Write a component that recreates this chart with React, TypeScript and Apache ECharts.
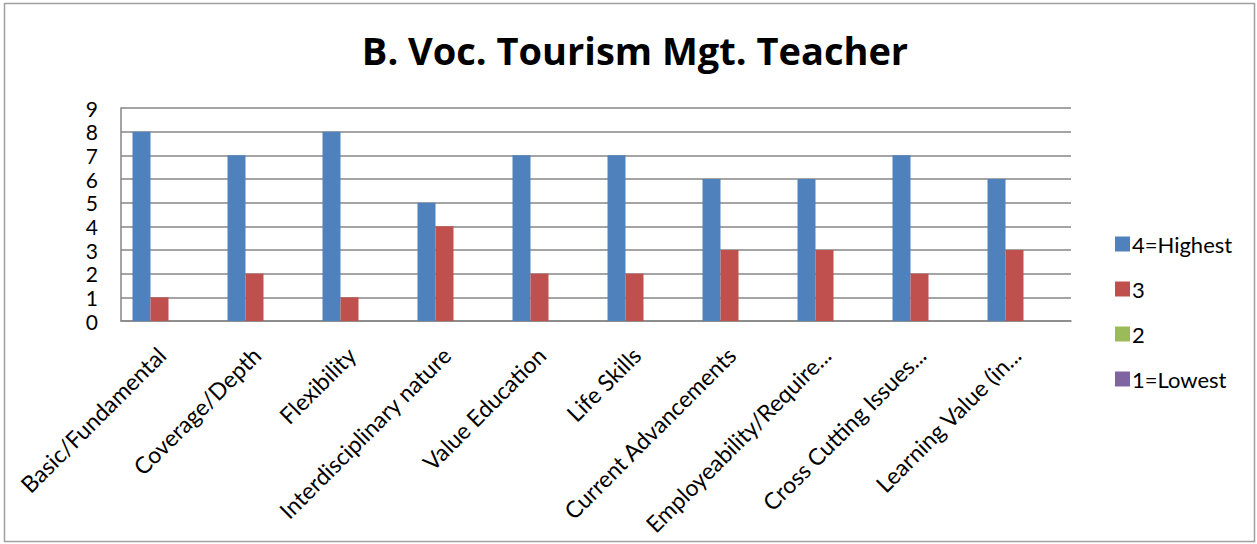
import React, { useEffect, useRef } from "react";
import * as echarts from "echarts";

const categories = [
  "Basic/Fundamental",
  "Coverage/Depth",
  "Flexibility",
  "Interdisciplinary nature",
  "Value Education",
  "Life Skills",
  "Current Advancements",
  "Employeability/Require...",
  "Cross Cutting Issues...",
  "Learning Value (in...",
];
const highest = [8, 7, 8, 5, 7, 7, 6, 6, 7, 6];
const three = [1, 2, 1, 4, 2, 2, 3, 3, 2, 3];
const two = [0, 0, 0, 0, 0, 0, 0, 0, 0, 0];
const lowest = [0, 0, 0, 0, 0, 0, 0, 0, 0, 0];
const seriesNames = ["4=Highest", "3", "2", "1=Lowest"];
const colors = ["#4F81BD", "#C0504D", "#9BBB59", "#8064A2"];

const FONT = "Lato, 'Open Sans', sans-serif";

export default function App() {
  const ref = useRef<HTMLDivElement>(null);
  useEffect(() => {
    if (!ref.current) return;
    const chart = echarts.init(ref.current, undefined, { renderer: "svg" });
    const data = [highest, three, two, lowest];
    chart.setOption({
      animation: false,
      backgroundColor: "#ffffff",
      textStyle: { fontFamily: FONT },
      title: {
        text: "B. Voc. Tourism Mgt. Teacher",
        left: 630,
        top: 26,
        textAlign: "center",
        textStyle: { fontFamily: "'Open Sans', Lato, sans-serif", fontSize: 38, fontWeight: "bold", color: "#000" },
      },
      graphic: [
        {
          type: "rect",
          shape: { x: 4.5, y: 3.5, width: 1250, height: 538 },
          style: { fill: "none", stroke: "#a0a0a0", lineWidth: 1.5 },
          silent: true,
        },
      ],
      legend: {
        orient: "vertical",
        left: 1110,
        top: 228,
        itemWidth: 15,
        itemHeight: 15,
        itemGap: 23,
        icon: "rect",
        data: seriesNames,
        textStyle: { fontFamily: FONT, fontSize: 22, color: "#000", padding: [0, 0, 0, -3] },
      },
      grid: { left: 121, right: 186, top: 108, bottom: 223, containLabel: false },
      xAxis: {
        type: "category",
        data: categories,
        axisLine: { lineStyle: { color: "#868686", width: 1.5 } },
        axisTick: { show: false },
        axisLabel: {
          rotate: 45,
          interval: 0,
          margin: 23,
          padding: [0, 10, 0, 0],
          fontFamily: FONT,
          fontSize: 23,
          color: "#000",
        },
      },
      yAxis: {
        type: "value",
        min: 0,
        max: 9,
        interval: 1,
        axisLine: { show: true, lineStyle: { color: "#868686", width: 1.5 } },
        axisTick: { show: false },
        splitLine: { lineStyle: { color: "#868686", width: 1.5 } },
        axisLabel: { margin: 23, fontFamily: FONT, fontSize: 21, color: "#000" },
      },
      series: seriesNames.map((name, i) => ({
        name,
        type: "bar",
        data: data[i],
        barWidth: 18,
        barGap: "0%",
        itemStyle: { color: colors[i] },
      })),
    });
    return () => chart.dispose();
  }, []);
  return (
    <div
      ref={ref}
      style={{ position: "fixed", left: 0, top: 0, width: 1257, height: 544 }}
    />
  );
}
